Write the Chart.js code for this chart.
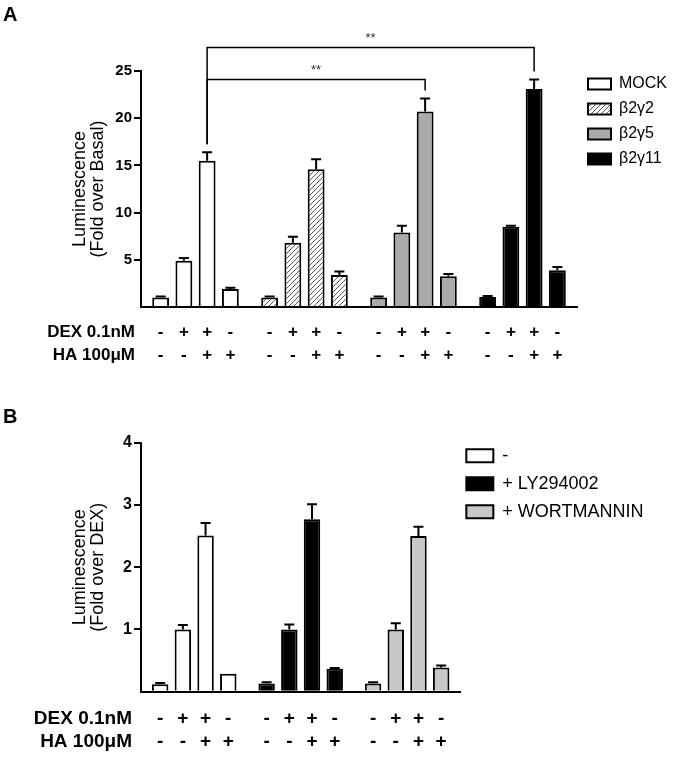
<!DOCTYPE html>
<html lang="en">
<head>
<meta charset="UTF-8" />
<title>Luminescence fold change</title>
<script src="https://cdn.jsdelivr.net/npm/chart.js"></script>
<style>
  body { margin: 0; background: #fff; }
  canvas { display: block; }
</style>
</head>
<body>
<canvas id="chartA" width="675" height="378"></canvas>
<canvas id="chartB" width="675" height="381"></canvas>
<script>
// treatment rows printed under every group of four bars
const dexRow = ['-', '+', '+', '-'];
const haRow = ['-', '-', '+', '+'];

// panel A: fold over basal, one array per transfection (bars in dexRow/haRow order)
const groupsA = ['MOCK', 'β2γ2', 'β2γ5', 'β2γ11'];
const mock = [1.0, 4.9, 15.5, 1.9];
const mockErr = [0.12, 0.3, 0.9, 0.15];
const b2g2 = [1.0, 6.8, 14.6, 3.4];
const b2g2Err = [0.1, 0.65, 1.05, 0.35];
const b2g5 = [1.0, 7.9, 20.7, 3.25];
const b2g5Err = [0.12, 0.7, 1.4, 0.25];
const b2g11 = [1.05, 8.5, 23.1, 3.9];
const b2g11Err = [0.12, 0.1, 1.0, 0.35];
const yTicksA = [5, 10, 15, 20, 25];

// significance brackets: [bar in group, group] at both ends, height in axis units
const bracketsA = [
  { from: [2, 0], to: [2, 2], level: 24.1, text: '**' },
  { from: [2, 0], to: [2, 3], level: 27.5, text: '**' }
];

// panel B: fold over DEX
const groupsB = ['-', '+ LY294002', '+ WORTMANNIN'];
const vehicle = [0.12, 1.0, 2.51, 0.29];
const vehicleErr = [0.02, 0.07, 0.2, 0];
const ly = [0.13, 1.0, 2.77, 0.37];
const lyErr = [0.02, 0.08, 0.24, 0.01];
const wort = [0.13, 1.0, 2.5, 0.39];
const wortErr = [0.02, 0.1, 0.15, 0.03];
const yTicksB = [1, 2, 3, 4];

Chart.defaults.font.family = 'Liberation Sans, Arial, sans-serif';
Chart.defaults.color = '#000';

function hatch() {
  const c = document.createElement('canvas');
  c.width = c.height = 5;
  const g = c.getContext('2d');
  g.fillStyle = '#fff';
  g.fillRect(0, 0, 5, 5);
  g.strokeStyle = '#555';
  g.lineWidth = 1;
  g.beginPath();
  g.moveTo(0, 5); g.lineTo(5, 0);
  g.moveTo(-1, 1); g.lineTo(1, -1);
  g.moveTo(4, 6); g.lineTo(6, 4);
  g.stroke();
  return g.createPattern(c, 'repeat');
}

// one dataset per treatment condition, coloured by group
function buildSets(groups, errs, colors) {
  return dexRow.map((_, c) => ({
    label: dexRow[c] + ' / ' + haRow[c],
    data: groups.map(g => g[c]),
    err: errs.map(e => e[c]),
    backgroundColor: colors,
    borderColor: '#000',
    borderWidth: 2,
    categoryPercentage: 0.853,
    barPercentage: 0.725
  }));
}

const errorBars = {
  id: 'errorBars',
  afterDatasetsDraw(chart) {
    const { ctx } = chart;
    const y = chart.scales.y;
    ctx.save();
    ctx.strokeStyle = '#000';
    ctx.lineWidth = 2;
    chart.data.datasets.forEach((ds, i) => {
      chart.getDatasetMeta(i).data.forEach((bar, j) => {
        if (!ds.err[j]) return;
        const top = y.getPixelForValue(ds.data[j] + ds.err[j]);
        ctx.beginPath();
        ctx.moveTo(bar.x, bar.y);
        ctx.lineTo(bar.x, top);
        ctx.moveTo(bar.x - 5, top);
        ctx.lineTo(bar.x + 5, top);
        ctx.stroke();
      });
    });
    ctx.restore();
  }
};

const treatmentRows = {
  id: 'treatmentRows',
  afterDraw(chart, args, opts) {
    const { ctx, chartArea } = chart;
    ctx.save();
    ctx.font = opts.font;
    ctx.fillStyle = '#000';
    ctx.textBaseline = 'middle';
    [['DEX 0.1nM', dexRow, opts.rowY[0]], ['HA 100μM', haRow, opts.rowY[1]]].forEach(([name, signs, dy]) => {
      const y = chartArea.bottom + dy;
      ctx.textAlign = 'right';
      ctx.fillText(name, opts.labelRight, y);
      ctx.textAlign = 'center';
      chart.data.datasets.forEach((ds, i) => {
        chart.getDatasetMeta(i).data.forEach(bar => ctx.fillText(signs[i], bar.x, y));
      });
    });
    ctx.restore();
  }
};

const brackets = {
  id: 'brackets',
  afterDraw(chart, args, opts) {
    const items = opts.items || [];
    const { ctx } = chart;
    const y = chart.scales.y;
    ctx.save();
    ctx.strokeStyle = '#000';
    ctx.lineWidth = 1.5;
    ctx.fillStyle = '#333';
    ctx.font = '13px Liberation Sans, Arial, sans-serif';
    ctx.textAlign = 'center';
    ctx.textBaseline = 'middle';
    items.forEach(b => {
      const ends = [b.from, b.to].map(([c, g]) => {
        const ds = chart.data.datasets[c];
        return {
          x: chart.getDatasetMeta(c).data[g].x,
          y: y.getPixelForValue(ds.data[g] + ds.err[g]) - 8
        };
      });
      const ly = y.getPixelForValue(b.level);
      ctx.beginPath();
      ctx.moveTo(ends[0].x, ends[0].y);
      ctx.lineTo(ends[0].x, ly);
      ctx.lineTo(ends[1].x, ly);
      ctx.lineTo(ends[1].x, ends[1].y);
      ctx.stroke();
      ctx.fillText(b.text, (ends[0].x + ends[1].x) / 2, ly - 9);
    });
    ctx.restore();
  }
};

// the legend sits a little higher/left than Chart.js puts it
const legendNudge = {
  id: 'legendNudge',
  afterLayout(chart, args, opts) {
    const l = chart.legend;
    l.left += opts.dx; l.right += opts.dx;
    l.top += opts.dy; l.bottom += opts.dy;
  }
};

function makeChart(id, cfg) {
  return new Chart(document.getElementById(id), {
    type: 'bar',
    data: { labels: cfg.groups, datasets: buildSets(cfg.values, cfg.errs, cfg.colors) },
    plugins: [errorBars, treatmentRows, brackets, legendNudge],
    options: {
      responsive: false,
      animation: false,
      layout: { padding: { left: 3, right: cfg.padRight, top: 0, bottom: 0 } },
      scales: {
        x: {
          z: 1,
          grid: { display: false },
          border: { color: '#000', width: 2 },
          ticks: { display: false },
          afterFit: s => { s.height = cfg.xHeight; }
        },
        y: {
          min: 0,
          max: cfg.yMax,
          ticks: {
            stepSize: cfg.step,
            padding: 2,
            font: { size: cfg.tickSize, weight: 'bold' },
            callback: v => cfg.ticks.includes(v) ? v : ''
          },
          grid: {
            drawOnChartArea: false,
            tickLength: 7,
            lineWidth: 2,
            color: c => c.tick && c.tick.value === 0 ? 'rgba(0,0,0,0)' : '#000'
          },
          border: { color: '#000', width: 2 },
          title: {
            display: true,
            text: ['Luminescence', cfg.yTitle],
            font: { size: 18, lineHeight: 1.0 },
            padding: { top: 68, bottom: 0 }
          },
          afterFit: s => { s.width = 138; }
        }
      },
      plugins: {
        title: {
          display: true,
          text: cfg.panel,
          align: 'start',
          font: { size: 20, weight: 'bold' },
          padding: cfg.titlePad
        },
        legend: {
          position: 'right',
          align: 'start',
          fullSize: false,
          maxWidth: 260,
          onClick: null,
          labels: {
            font: { size: cfg.legendSize },
            boxWidth: cfg.boxW,
            boxHeight: cfg.boxH,
            padding: cfg.legendGap,
            generateLabels: () => cfg.groups.map((g, i) => ({
              text: g,
              fillStyle: cfg.colors[i],
              strokeStyle: '#000',
              lineWidth: 2,
              fontColor: '#000',
              hidden: false,
              index: i
            }))
          }
        },
        tooltip: { enabled: false },
        legendNudge: cfg.nudge,
        treatmentRows: { font: 'bold ' + cfg.rowSize + 'px Liberation Sans, Arial, sans-serif', rowY: cfg.rowY, labelRight: cfg.labelRight },
        brackets: { items: cfg.brackets }
      }
    }
  });
}

makeChart('chartA', {
  panel: 'A',
  groups: groupsA,
  values: [mock, b2g2, b2g5, b2g11],
  errs: [mockErr, b2g2Err, b2g5Err, b2g11Err],
  colors: ['#ffffff', hatch(), '#aaaaaa', '#000000'],
  yMax: 25, step: 5, ticks: yTicksA, tickSize: 15,
  yTitle: '(Fold over Basal)',
  titlePad: { top: 3, bottom: 44 },
  xHeight: 71,
  padRight: 0,
  legendSize: 16, boxW: 23, boxH: 11, legendGap: 9,
  nudge: { dx: 2, dy: -4 },
  rowSize: 17, rowY: [25, 48.3], labelRight: 135,
  brackets: bracketsA
});

makeChart('chartB', {
  panel: 'B',
  groups: groupsB,
  values: [vehicle, ly, wort],
  errs: [vehicleErr, lyErr, wortErr],
  colors: ['#ffffff', '#000000', '#c8c8c8'],
  yMax: 4, step: 1, ticks: yTicksB, tickSize: 16,
  yTitle: '(Fold over DEX)',
  titlePad: { top: 27.5, bottom: 13.2 },
  xHeight: 67.3,
  padRight: 17.5,
  legendSize: 18, boxW: 27, boxH: 13, legendGap: 10,
  nudge: { dx: -4, dy: -6 },
  rowSize: 19, rowY: [26.6, 50], labelRight: 132,
  brackets: []
});
</script>
</body>
</html>
